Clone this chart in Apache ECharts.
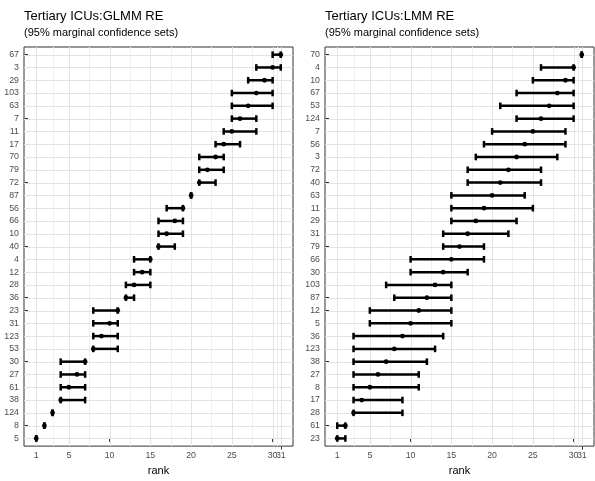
<!DOCTYPE html>
<html>
<head>
<meta charset="utf-8">
<script src="https://cdn.jsdelivr.net/npm/echarts@6/dist/echarts.min.js"></script>
<style>html,body{margin:0;padding:0;background:#fff}#c{width:595px;height:481px}</style>
</head>
<body>
<div id="c"></div>
<script>
// ---- Data (listed top to bottom as displayed) ----
const glmmIcu = ['67','3','29','103','63','7','11','17','70','79','72','87','56','66','10','40','4','12','28','36','23','31','123','53','30','27','61','38','124','8','5'];
const glmmEst = [31,30,29,28,27,26,25,24,23,22,21,20,19,18,17,16,15,14,13,12,11,10,9,8,7,6,5,4,3,2,1];
const glmmLo  = [30,28,27,25,25,25,24,23,21,21,21,20,17,16,16,16,13,13,12,12,8,8,8,8,4,4,4,4,3,2,1];
const glmmHi  = [31,31,30,30,30,28,28,26,24,24,23,20,19,19,19,18,15,15,15,13,11,11,11,11,7,7,7,7,3,2,1];

const lmmIcu = ['70','4','10','67','53','124','7','56','3','72','40','63','11','29','31','79','66','30','103','87','12','5','36','123','38','27','8','17','28','61','23'];
const lmmEst = [31,30,29,28,27,26,25,24,23,22,21,20,19,18,17,16,15,14,13,12,11,10,9,8,7,6,5,4,3,2,1];
const lmmLo  = [31,26,25,23,21,23,20,19,18,17,17,15,15,15,14,14,10,10,7,8,5,5,3,3,3,3,3,3,3,1,1];
const lmmHi  = [31,30,30,30,30,30,29,29,28,26,26,24,25,23,22,19,19,17,15,15,15,15,14,13,12,11,11,9,9,2,2];

const xTicks = [1,5,10,15,20,25,30];
const xTickLast = [31];
const xMinor = [3,7.5,12.5,17.5,22.5,27.5,30.5];

const titles = ['Tertiary ICUs:GLMM RE', 'Tertiary ICUs:LMM RE'];
const subtitle = '(95% marginal confidence sets)';
const xName = 'rank';

// ---- Build ----
const FONT = '"Liberation Sans", Arial, sans-serif';
const n = glmmIcu.length;
const yIdx = Array.from({length: n}, (_, i) => i);
const allXTicks = xTicks.concat(xTickLast);

function rows(lo, est, hi) {
  return lo.map((v, i) => [n - 1 - i, v, est[i], hi[i]]);
}
function labelsBottomUp(icu) { return icu.slice().reverse(); }

function renderBar(params, api) {
  const y = api.value(0), lo = api.value(1), est = api.value(2), hi = api.value(3);
  const a = api.coord([lo, y]), b = api.coord([hi, y]), e = api.coord([est, y]);
  const h = 3.3, lw = 2.5, st = {stroke: '#000', lineWidth: lw};
  return {type: 'group', children: [
    {type: 'line', shape: {x1: a[0], y1: a[1], x2: b[0], y2: b[1]}, style: st},
    {type: 'line', shape: {x1: a[0], y1: a[1] - h, x2: a[0], y2: a[1] + h}, style: st},
    {type: 'line', shape: {x1: b[0], y1: b[1] - h, x2: b[0], y2: b[1] + h}, style: st},
    {type: 'circle', shape: {cx: e[0], cy: e[1], r: 2.4}, style: {fill: '#000'}}
  ]};
}
function vGrid(color, w) {
  return function (params, api) {
    const cs = params.coordSys;
    const x = Math.round(api.coord([api.value(0), 0])[0]) + 0.5;
    return {type: 'line', z2: 0, shape: {x1: x, y1: cs.y, x2: x, y2: cs.y + cs.height}, style: {stroke: color, lineWidth: w}};
  };
}
function hGrid(color, w) {
  return function (params, api) {
    const cs = params.coordSys;
    const y = Math.round(api.coord([0, api.value(1)])[1]) + 0.5;
    return {type: 'line', z2: 0, shape: {x1: cs.x, y1: y, x2: cs.x + cs.width, y2: y}, style: {stroke: color, lineWidth: w}};
  };
}

const grids = [
  {left: 24, top: 47, width: 269, height: 409},
  {left: 325, top: 47, width: 269, height: 409}
];
const icus = [glmmIcu, lmmIcu];
const dataSets = [rows(glmmLo, glmmEst, glmmHi), rows(lmmLo, lmmEst, lmmHi)];

function xAxisDef(i, ticks, withName) {
  return {
    type: 'value', gridIndex: i, position: 'bottom', min: -0.5, max: 32.5,
    name: withName ? xName : '', nameLocation: 'middle', nameGap: 13,
    nameTextStyle: {fontFamily: FONT, fontSize: 11, color: '#000', verticalAlign: 'top'},
    axisLine: {show: false},
    axisTick: {show: true, length: 3.5, lineStyle: {color: '#333'}, customValues: ticks},
    axisLabel: {fontFamily: FONT, fontSize: 8.8, color: '#4d4d4d', margin: 5, customValues: ticks, hideOverlap: false},
    splitLine: {show: false}
  };
}

const option = {
  animation: false,
  backgroundColor: '#fff',
  title: grids.map((g, i) => ({
    text: titles[i], subtext: subtitle, left: g.left, top: 10, padding: 0, itemGap: 4,
    textStyle: {fontFamily: FONT, fontSize: 13, fontWeight: 'normal', color: '#000'},
    subtextStyle: {fontFamily: FONT, fontSize: 11, color: '#000'}
  })),
  grid: grids.map(g => Object.assign({show: true, borderColor: '#333', borderWidth: 1, backgroundColor: 'rgba(0,0,0,0)', containLabel: false, z: 0}, g)),
  xAxis: [xAxisDef(0, xTicks, true), xAxisDef(1, xTicks, true), xAxisDef(0, xTickLast, false), xAxisDef(1, xTickLast, false)],
  yAxis: grids.map((g, i) => {
    const lab = labelsBottomUp(icus[i]);
    return {
      type: 'value', gridIndex: i, position: 'left', min: -0.6, max: n - 1 + 0.6,
      axisLine: {show: false},
      axisTick: {show: true, length: 3.5, lineStyle: {color: '#333'}, customValues: yIdx},
      axisLabel: {fontFamily: FONT, fontSize: 8.8, color: '#4d4d4d', margin: 5, customValues: yIdx, hideOverlap: false,
        formatter: v => lab[Math.round(v)]},
      splitLine: {show: false}
    };
  }),
  series: []
};

[0, 1].forEach(i => {
  option.series.push({type: 'custom', xAxisIndex: i, yAxisIndex: i, silent: true, z: 1,
    renderItem: vGrid('#efefef', 1), data: xMinor.map(v => [v, 0]), encode: {x: 0, y: 1}});
  option.series.push({type: 'custom', xAxisIndex: i, yAxisIndex: i, silent: true, z: 1,
    renderItem: vGrid('#e3e3e3', 1), data: allXTicks.map(v => [v, 0]), encode: {x: 0, y: 1}});
  option.series.push({type: 'custom', xAxisIndex: i, yAxisIndex: i, silent: true, z: 1,
    renderItem: hGrid('#e3e3e3', 1), data: yIdx.map(v => [1, v]), encode: {x: 0, y: 1}});
  option.series.push({type: 'custom', xAxisIndex: i, yAxisIndex: i, z: 3,
    renderItem: renderBar, data: dataSets[i], encode: {x: [1, 2, 3], y: 0}});
});

const chart = echarts.init(document.getElementById('c'), null, {renderer: 'canvas'});
chart.setOption(option);
</script>
</body>
</html>
